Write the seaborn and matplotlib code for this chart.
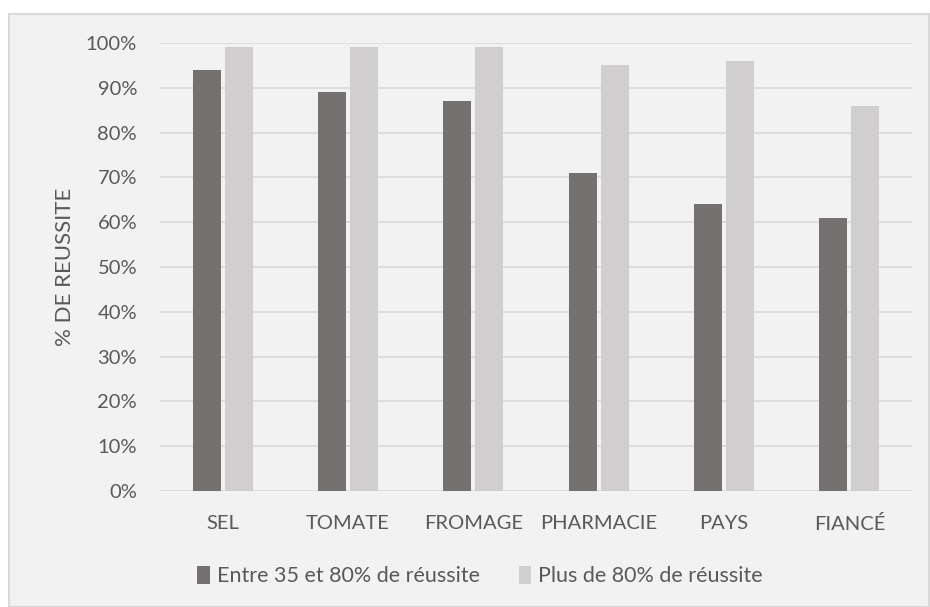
import pandas as pd
import seaborn as sns
import matplotlib
matplotlib.use("Agg")
from matplotlib import pyplot as plt
from matplotlib.patches import Rectangle
from matplotlib.ticker import PercentFormatter

# chart data
categories = ["SEL", "TOMATE", "FROMAGE", "PHARMACIE", "PAYS", "FIANCÉ"]
series_names = ["Entre 35 et 80% de réussite", "Plus de 80% de réussite"]
entre_35_80 = [0.94, 0.89, 0.87, 0.71, 0.64, 0.61]
plus_de_80 = [0.99, 0.99, 0.99, 0.95, 0.96, 0.86]
y_label = "% DE REUSSITE"

df = pd.DataFrame({
    "categorie": categories * 2,
    "serie": [series_names[0]] * len(categories) + [series_names[1]] * len(categories),
    "valeur": entre_35_80 + plus_de_80,
})

sns.set_theme(style="white")
plt.rcParams["font.family"] = ["Lato", "DejaVu Sans"]
text_color = "#595959"
grid_color = "#D9D9D9"
palette = ["#767171", "#D0CECE"]

fig = plt.figure(figsize=(9.3, 6.07), dpi=100, facecolor="white")

# chart area background with border
fig.patches.append(Rectangle(
    (9 / 930, 0.5 / 607), 920 / 930, 593 / 607,
    transform=fig.transFigure, facecolor="#F2F2F2",
    edgecolor=grid_color, linewidth=1.5, zorder=-5,
))

ax = fig.add_axes([160 / 930, 1 - 491 / 607, 752 / 930, 448 / 607])
ax.set_facecolor("none")

sns.barplot(
    data=df, x="categorie", y="valeur", hue="serie",
    palette=palette, width=0.511, gap=0.125,
    saturation=1, ax=ax, legend=True, zorder=3, linewidth=0,
)

ax.set_ylim(0, 1.0)
ax.set_xlim(-0.5, len(categories) - 0.5)
ax.set_yticks([i / 10 for i in range(11)])
ax.yaxis.set_major_formatter(PercentFormatter(1.0, decimals=0))
ax.grid(axis="y", color=grid_color, linewidth=1.2, zorder=0)
ax.set_axisbelow(True)
for side in ["top", "right", "left", "bottom"]:
    ax.spines[side].set_visible(False)

ax.tick_params(axis="both", length=0, labelsize=14.5, labelcolor=text_color)
ax.tick_params(axis="y", pad=16.5)
ax.tick_params(axis="x", pad=17)
ax.set_xlabel("")
ax.set_ylabel(y_label, fontsize=16, color=text_color, labelpad=8)

ax.get_legend().remove()
handles, labels = ax.get_legend_handles_labels()
fig.legend(
    handles, labels, loc="center", bbox_to_anchor=(480 / 930, 1 - 576 / 607),
    ncol=2, frameon=False, fontsize=15.5, labelcolor=text_color,
    handlelength=0.6, handleheight=0.9, handletextpad=0.3, columnspacing=1.8,
)

fig.savefig("out.png", dpi=100)
